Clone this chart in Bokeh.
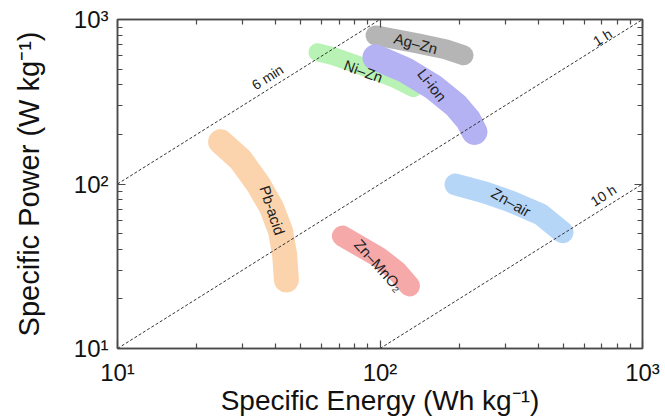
from bokeh.plotting import figure
from bokeh.models import LogAxis, FixedTicker, ColumnDataSource
from bokeh.core.properties import value
from bokeh.embed import file_html
from bokeh.resources import INLINE
import numpy as np

# Band centre lines (specific energy Wh/kg, specific power W/kg)
pb_e = [24.7, 29.4, 34.4, 38.6, 41.8, 43.3, 44.0]
pb_p = [180.6, 140.6, 99.3, 72.1, 51.6, 37.5, 26.1]
mn_e = [71.9, 98.7, 115.6, 129.5]
mn_p = [48.2, 36.0, 29.6, 24.0]
air_e = [194, 250, 314, 409, 496]
air_p = [99.3, 89.0, 78.4, 65.4, 50.9]
li_e = [96.1, 125, 159.8, 194, 217, 229]
li_p = [589, 492, 388, 302, 245, 207.5]
ni_e = [57.8, 66.5, 89.6, 114.6, 134.2]
ni_p = [632, 598, 506, 434, 383]
ag_e = [96.1, 139, 177.6, 208]
ag_p = [800, 716, 659, 606]

# Labels
band_names = ["Pb-acid", "Zn\u2013MnO\u2082", "Zn\u2013air", "Li-ion", "Ni\u2013Zn", "Ag\u2013Zn"]
label_e = [38.9, 98.9, 316, 158, 86.5, 137]
label_p = [69.2, 32.0, 77.5, 400, 485, 716]
label_deg = [-72, -48, -30, -52, -20, -15]

# Discharge time lines: P = E / t
times_h = [0.1, 1.0, 10.0]
time_names = ["6 min", "1 h", "10 h"]
time_label_e = [37.3, 704, 710]
time_label_p = [446, 778, 85.2]

# Axis ticks
major_ticks = [10, 100, 1000]
minor_ticks = [20, 30, 40, 50, 60, 70, 80, 90, 200, 300, 400, 500, 600, 700, 800, 900]
tick_labels = {10: "10\u00b9", 100: "10\u00b2", 1000: "10\u00b3"}

p = figure(width=665, height=418, x_axis_type="log", y_axis_type="log",
           x_range=(10, 1000), y_range=(10, 1000),
           min_border_left=117, min_border_top=19, min_border_right=23, min_border_bottom=68,
           output_backend="svg", toolbar_location=None)
p.grid.visible = False
p.outline_line_color = "#4a4a4a"
p.outline_line_width = 1.5
p.background_fill_color = "white"

bands = [
    (ni_e, ni_p, "#b8f2b4", 18),
    (ag_e, ag_p, "#b5b5b5", 20),
    (li_e, li_p, "#b4b2f3", 26),
    (pb_e, pb_p, "#fbd4ae", 25),
    (mn_e, mn_p, "#f5a9a9", 21),
    (air_e, air_p, "#b6d6f7", 22),
]
for e, pw, col, w in bands:
    p.line(e, pw, line_color=col, line_width=w, line_cap="round", line_join="round")

for t in times_h:
    e0 = max(10.0, 10.0 * t)
    e1 = min(1000.0, 1000.0 * t)
    p.line([e0, e1], [e0 / t, e1 / t], line_color="#333333", line_width=1, line_dash="3 2")

src = ColumnDataSource(dict(x=label_e, y=label_p, t=band_names, a=[np.deg2rad(d) for d in label_deg]))
p.text(x="x", y="y", text="t", angle="a", source=src, text_align="center", text_baseline="middle",
       text_font=value("Liberation Sans"), text_font_size="15px", text_color="#222222")

ang = np.arctan2(165.5, 262.5)
src2 = ColumnDataSource(dict(x=time_label_e, y=time_label_p, t=time_names, a=[ang] * 3))
p.text(x="x", y="y", text="t", angle="a", source=src2, text_align="center", text_baseline="middle",
       text_font=value("Liberation Sans"), text_font_size="14px", text_color="#222222")


def style(ax, labels=True):
    ax.ticker = FixedTicker(ticks=major_ticks, minor_ticks=minor_ticks)
    ax.axis_line_color = "#4a4a4a"
    ax.axis_line_width = 1.5
    ax.major_tick_in = 8
    ax.major_tick_out = 0
    ax.minor_tick_in = 5
    ax.minor_tick_out = 0
    ax.major_tick_line_color = "#4a4a4a"
    ax.minor_tick_line_color = "#4a4a4a"
    ax.major_tick_line_width = 1.2
    ax.minor_tick_line_width = 1.2
    if labels:
        ax.major_label_overrides = tick_labels
        ax.major_label_text_font = "Liberation Sans"
        ax.major_label_text_font_size = "24px"
        ax.major_label_text_color = "#111111"
        ax.axis_label_text_font = "Liberation Sans"
        ax.axis_label_text_font_style = "normal"
        ax.axis_label_text_color = "#111111"
    else:
        ax.major_label_text_font_size = "1px"
        ax.major_label_text_color = None
        ax.major_label_standoff = 0


style(p.xaxis[0])
style(p.yaxis[0])
p.xaxis.axis_label = "Specific Energy (Wh kg\u207b\u00b9)"
p.yaxis.axis_label = "Specific Power (W kg\u207b\u00b9)"
p.xaxis.axis_label_text_font_size = "28px"
p.yaxis.axis_label_text_font_size = "29px"
p.xaxis.major_label_standoff = 10
p.yaxis.major_label_standoff = 9
p.xaxis.axis_label_standoff = -4
p.yaxis.axis_label_standoff = 26

top = LogAxis()
style(top, labels=False)
p.add_layout(top, "above")
right = LogAxis()
style(right, labels=False)
p.add_layout(right, "right")

open("out.html", "w").write(file_html(p, INLINE))
